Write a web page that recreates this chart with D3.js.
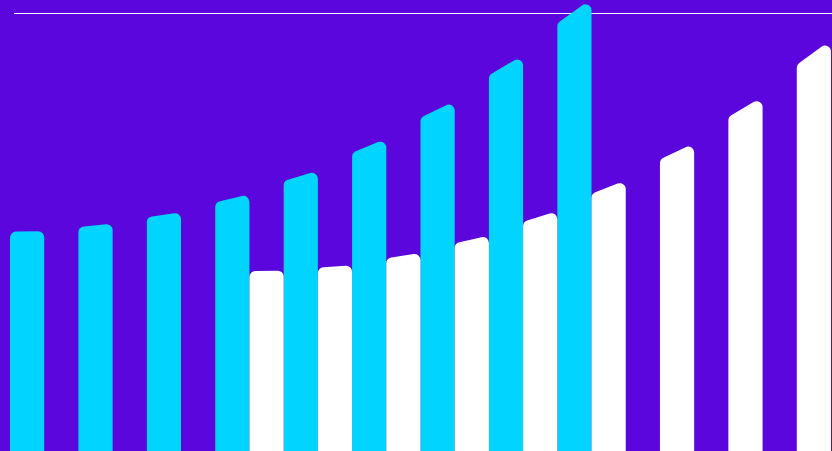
<!DOCTYPE html>
<html>
<head>
<meta charset="utf-8">
<script src="https://cdn.jsdelivr.net/npm/d3@7"></script>
<style>
  html, body { margin: 0; padding: 0; background: #5b06dc; overflow: hidden; }
  #graphicContainer { width: 832px; height: 451px; }
</style>
</head>
<body>
<div id="graphicContainer"></div>
<script>
// twelve periods, two overlapping series (cyan runs 1-9, white runs 4-12)
var periods = ["1", "2", "3", "4", "5", "6", "7", "8", "9", "10", "11", "12"]
var cyanValues = [50.2, 51.9, 54.5, 58.6, 64.0, 71.3, 79.9, 90.4, 103.3, null, null, null]
var whiteValues = [null, null, null, 41.2, 42.4, 45.2, 49.2, 54.8, 61.8, 70.3, 80.9, 93.9]
var gridValues = [100]

var width = 832
var height = 451
var margin = { top: 13, right: 1, bottom: 0, left: 10 }

var svg = d3.select("#graphicContainer").append("svg")
  .attr("width", width)
  .attr("height", height)
  .style("display", "block")

svg.append("rect")
  .attr("width", width)
  .attr("height", height)
  .attr("fill", "#5b06dc")

var x = d3.scaleBand().domain(periods).range([margin.left, width - margin.right]).padding(0)
var y = d3.scaleLinear().domain([0, 100]).range([height - margin.bottom, margin.top])

svg.selectAll(".grid")
  .data(gridValues)
  .enter().append("line")
  .attr("class", "grid")
  .attr("x1", 14)
  .attr("x2", width)
  .attr("y1", function (d) { return Math.round(y(d)) + 0.5 })
  .attr("y2", function (d) { return Math.round(y(d)) + 0.5 })
  .attr("stroke", "#ffffff")
  .attr("stroke-width", 1.2)

// bar with a slanted top leaning up toward the next period, filleted top corners
function barPath(x0, w, yL, yR, yB, rho) {
  var x1 = x0 + w
  var dx = w, dy = yR - yL
  var len = Math.sqrt(dx * dx + dy * dy)
  var ux = dx / len, uy = dy / len
  var tL = rho / Math.tan(Math.acos(uy) / 2)
  var tR = rho / Math.tan(Math.acos(-uy) / 2)
  return "M" + x0 + "," + yB +
    "L" + x0 + "," + (yL + tL) +
    "A" + rho + "," + rho + " 0 0 1 " + (x0 + ux * tL) + "," + (yL + uy * tL) +
    "L" + (x1 - ux * tR) + "," + (yR - uy * tR) +
    "A" + rho + "," + rho + " 0 0 1 " + x1 + "," + (yR + tR) +
    "L" + x1 + "," + yB + "Z"
}

var slant = 0.44

function drawSeries(values, offset, colour, name) {
  var rows = []
  values.forEach(function (v, i) {
    if (v === null) return
    var prev = (i > 0 && values[i - 1] !== null) ? values[i - 1] : v - 0.3
    rows.push({ period: periods[i], value: v, prev: prev })
  })
  svg.selectAll(".bar-" + name)
    .data(rows)
    .enter().append("path")
    .attr("class", "bar-" + name)
    .attr("fill", colour)
    .attr("d", function (d) {
      var w = x.bandwidth() / 2
      var x0 = x(d.period) + offset * w
      var yR = y(d.value)
      var yL = yR + slant * (y(d.prev) - yR)
      return barPath(x0, w, yL, yR, height + 5, 6)
    })
}

drawSeries(cyanValues, 0, "#00d4ff", "cyan")
drawSeries(whiteValues, 1, "#ffffff", "white")
</script>
</body>
</html>
